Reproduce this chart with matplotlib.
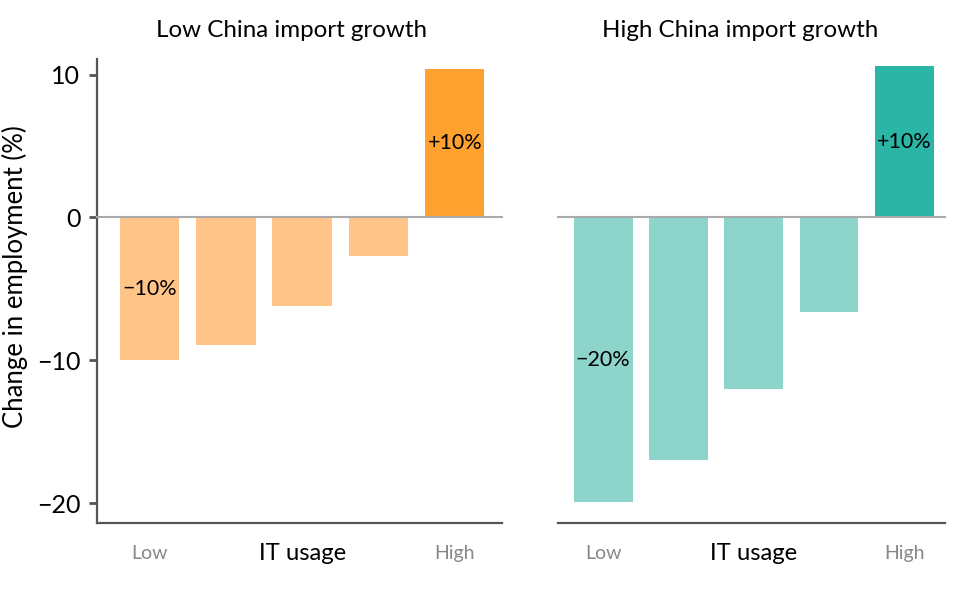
import matplotlib
matplotlib.use("Agg")
import matplotlib.pyplot as plt
import matplotlib.transforms as mtransforms
import numpy as np

plt.rcParams['font.family'] = ['Lato', 'DejaVu Sans']

# data
titles = ["Low China import growth", "High China import growth"]
low_china = [-10.0, -8.9, -6.2, -2.7, 10.4]
high_china = [-19.9, -17.0, -12.0, -6.6, 10.6]
tick_labels = ["Low", "High"]
xlabel = "IT usage"
ylabel = "Change in employment (%)"
labels_low = ["\u221210%", "+10%"]
labels_high = ["\u221220%", "+10%"]

light = ["#FFC488", "#8DD5CB"]
dark = ["#FFA12E", "#2AB5A7"]
spine_col = "#555555"

fig = plt.figure(figsize=(9.6, 5.93), dpi=100)
W, H = 960.0, 593.0
bottom = 1 - 523 / H
height = (523 - 59) / H
ax1 = fig.add_axes([97 / W, bottom, (502 - 97) / W, height])
ax2 = fig.add_axes([558 / W, bottom, (945 - 558) / W, height])

panels = [(ax1, low_china, labels_low, (-0.69, 4.62), 0.48),
          (ax2, high_china, labels_high, (-0.60, 4.54), 0.47)]

for i, (ax, vals, labs, xl, tx) in enumerate(panels):
    x = np.arange(len(vals))
    cols = [light[i]] * (len(vals) - 1) + [dark[i]]
    ax.bar(x, vals, width=0.78, color=cols, zorder=2)
    ax.axhline(0, color="#AAAAAA", lw=1.5, zorder=3, clip_on=False)
    ax.set_xlim(*xl)
    ax.set_ylim(-21.4, 11.1)
    ax.set_xticks([])
    # Low / IT usage / High all sit on one line under the axis
    trans = mtransforms.blended_transform_factory(ax.transData, ax.transAxes)
    ax.text(x[0], -0.066, tick_labels[0], ha="center", va="center",
            color="#888888", fontsize=14, transform=trans)
    ax.text(x[-1], -0.066, tick_labels[1], ha="center", va="center",
            color="#888888", fontsize=14, transform=trans)
    ax.text(x[2], -0.066, xlabel, ha="center", va="center", fontsize=17.2,
            transform=trans)
    ax.set_title(titles[i], fontsize=17.4, pad=16, x=tx)
    # labels on the first and last bars
    ax.text(x[0], vals[0] / 2, labs[0], ha="center", va="center", fontsize=15.5, zorder=4)
    ax.text(x[-1], vals[-1] / 2, labs[1], ha="center", va="center", fontsize=15.5, zorder=4)
    for s in ["top", "right"]:
        ax.spines[s].set_visible(False)
    ax.spines["bottom"].set_color(spine_col)
    ax.spines["bottom"].set_linewidth(1.6)

ax1.spines["left"].set_color(spine_col)
ax1.spines["left"].set_linewidth(1.6)
ax1.set_yticks([-20, -10, 0, 10])
ax1.tick_params(axis="y", length=6, width=2, color=spine_col, labelsize=18, pad=6)
ax1.set_ylabel(ylabel, fontsize=18.5)
ax1.yaxis.set_label_coords(-0.17, 0.53)

ax2.spines["left"].set_visible(False)
ax2.set_yticks([])

fig.savefig("out.png", dpi=100)
